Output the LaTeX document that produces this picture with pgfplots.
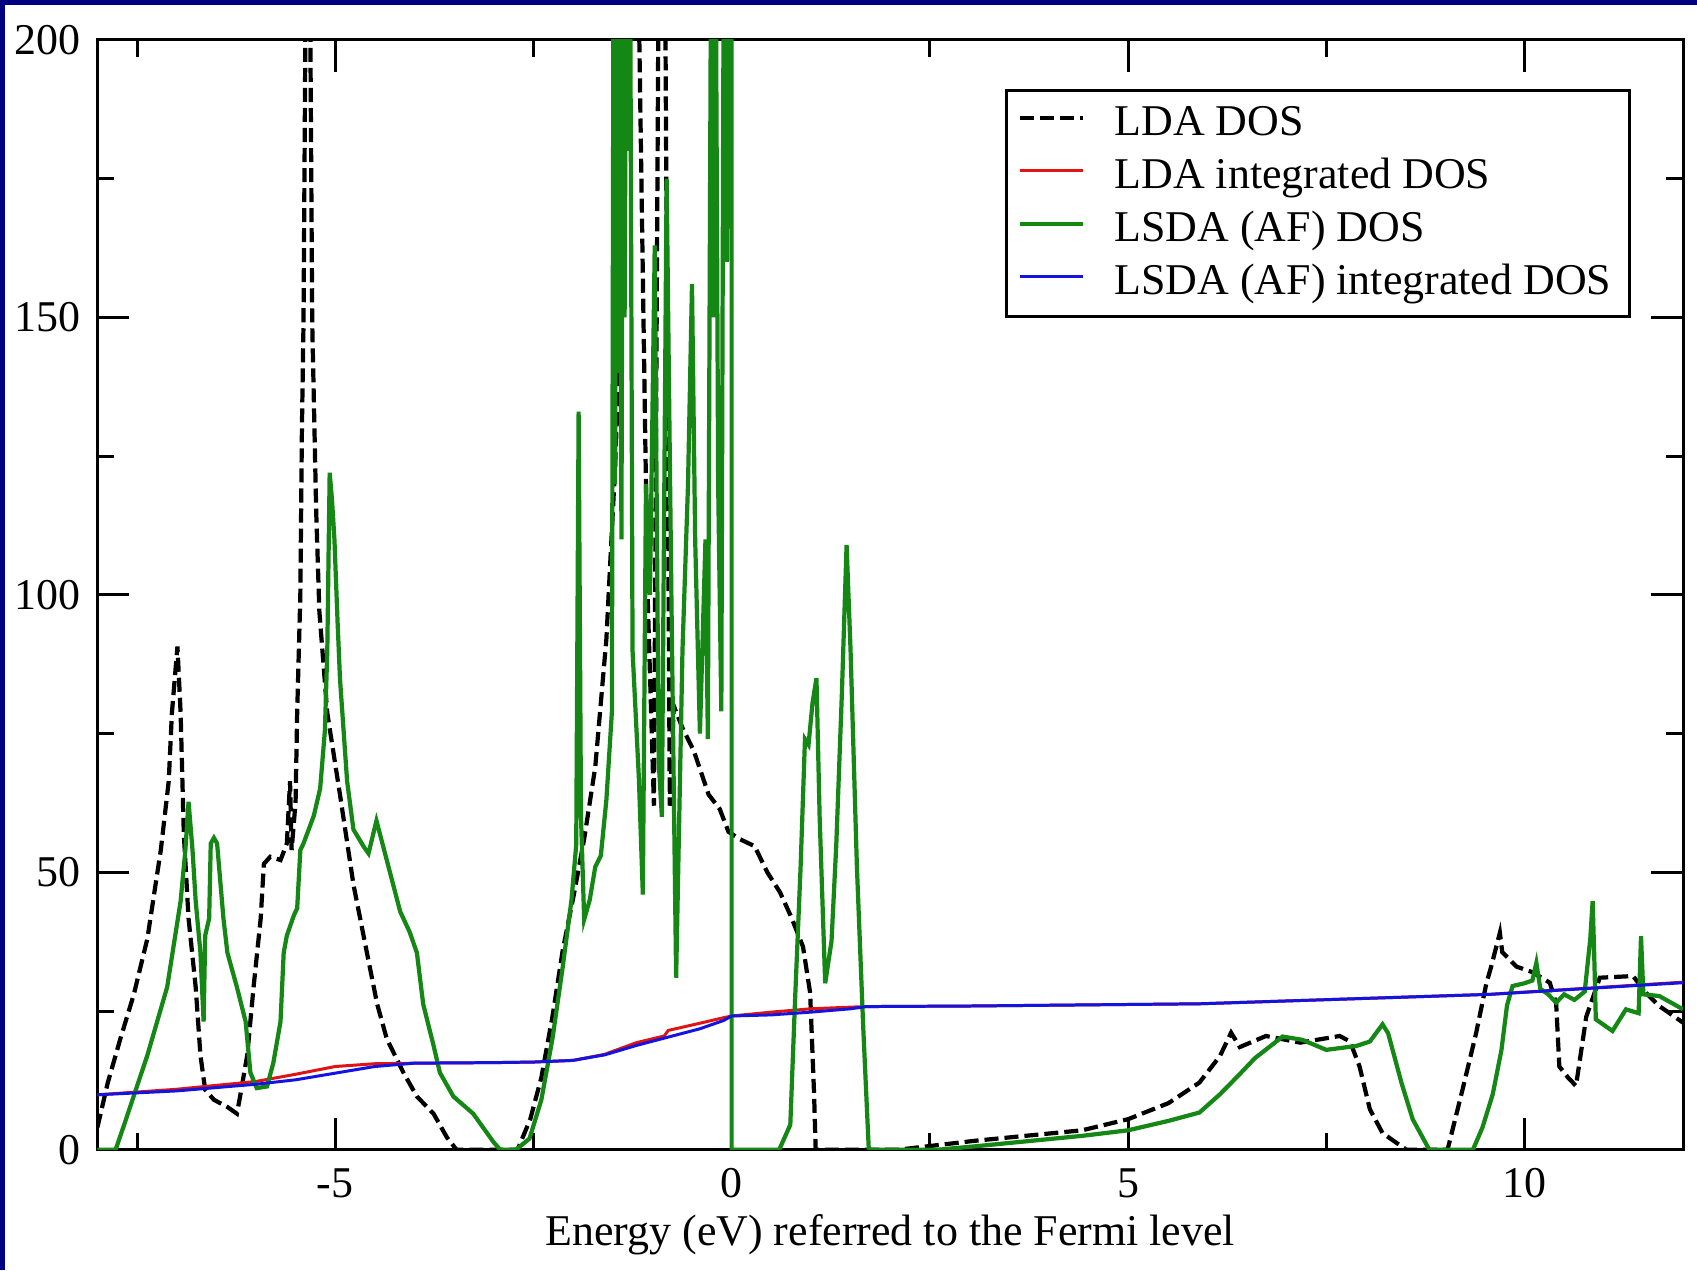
\documentclass[border=0pt]{standalone}
\usepackage{fontspec}
\setmainfont{Liberation Serif}
\usepackage{pgfplots}
\pgfplotsset{compat=1.18}
\definecolor{navyb}{RGB}{0,0,128}
\definecolor{gr}{RGB}{20,135,20}
\definecolor{rd}{RGB}{225,20,20}
\definecolor{bl}{RGB}{20,20,225}
\begin{document}
\fontsize{12.5}{15}\selectfont
\begin{tikzpicture}
\fill[white] (-0.974,-1.205) rectangle (16.0,11.5);
\fill[navyb] (-0.974,11.45) rectangle (16.0,11.5);
\fill[navyb] (-0.974,-1.205) rectangle (-0.924,11.5);
\begin{axis}[
  scale only axis, width=15.86cm, height=11.10cm,
  xmin=-8, xmax=12, ymin=0, ymax=200,
  xtick={-5,0,5,10}, minor xtick={-7.5,-2.5,2.5,7.5},
  ytick={0,50,100,150,200}, minor ytick={25,75,125,175},
  tick align=inside, major tick length=0.32cm, minor tick length=0.17cm,
  tick style={black, line width=0.85pt},
  axis line style={line width=0.85pt},
  /pgf/number format/assume math mode=true,
  ticklabel style={font=\fontsize{12.5}{15}\selectfont, inner sep=0pt},
  xticklabel style={anchor=base, yshift=-0.475cm},
  yticklabel style={anchor=east, xshift=-0.16cm},
  xlabel={Energy (eV) referred to the Fermi level},
  xlabel style={at={(axis description cs:0.5,0)}, anchor=base, yshift=-0.955cm, font=\fontsize{12.5}{15}\selectfont},
  legend cell align=left,
  legend style={at={(0.967,0.956)}, anchor=north east, draw=black, line width=0.85pt, fill=white,
    font=\fontsize{12.5}{15}\selectfont, inner xsep=0.02cm, inner ysep=0.07cm, row sep=0pt,
    nodes={inner xsep=0.16cm, inner ysep=0pt, text height=0.38cm, text depth=0.15cm}},
  legend image code/.code={\path[draw=none, fill=none] (0cm,0.06cm) -- (0.90cm,0.06cm); \draw[#1] (0.11cm,0.06cm) -- (0.74cm,0.06cm);},
]
\addplot[black, line width=1.2pt, dash pattern=on 4pt off 1.7pt] coordinates {
(-8,4) (-7.87,12) (-7.71,20) (-7.54,28) (-7.37,38) (-7.20,54) (-7.10,66.4) (-7.06,78.7) (-6.99,90.7) (-6.95,78.7) (-6.91,57) (-6.85,41.7) (-6.76,29.3) (-6.70,17) (-6.64,10.8) (-6.53,9) (-6.36,7.7) (-6.24,6.5) (-6.20,9.6) (-6.11,17) (-6.03,29.3) (-5.94,41.7) (-5.90,51.5) (-5.82,52.8) (-5.69,52.2) (-5.61,55.2) (-5.57,66.4) (-5.55,54) (-5.50,62.7) (-5.48,78.7) (-5.44,100) (-5.42,130) (-5.40,149) (-5.37,215) (-5.32,215) (-5.29,149) (-5.24,115) (-5.20,97) (-5.10,78.7) (-4.94,64) (-4.77,47.8) (-4.60,35.5) (-4.47,26.2) (-4.35,20) (-4.14,13.9) (-3.97,9.6) (-3.76,6.5) (-3.59,2.2) (-3.47,0) (-2.70,0) (-2.54,5.5) (-2.40,13) (-2.26,24) (-2.13,36) (-1.99,46) (-1.86,56) (-1.72,69) (-1.58,92) (-1.47,123) (-1.38,158) (-1.30,215) (-1.18,215) (-1.06,100) (-0.98,62) (-0.92,215) (-0.84,215) (-0.78,62) (-0.73,80) (-0.62,76) (-0.48,72) (-0.29,64) (-0.15,61.4) (-0.04,57.3) (0.1,56) (0.29,54.7) (0.45,50) (0.61,46.4) (0.75,42) (0.90,36.6) (0.99,28.3) (1.04,10) (1.06,0) (2.1,0) (3.06,1.6) (4.42,3.5) (5.0,5.5) (5.51,8.4) (5.90,12.1) (6.16,16.9) (6.30,21.1) (6.41,18.5) (6.74,20.5) (7.17,19.3) (7.67,20.5) (7.80,19.5) (7.92,15) (8.05,7.3) (8.21,3) (8.51,0) (9.03,0) (9.22,10.9) (9.39,21) (9.52,30) (9.58,33) (9.69,39.1) (9.72,35.6) (9.90,33) (10.10,32) (10.32,30.1) (10.40,26.3) (10.44,15) (10.55,13) (10.65,11.5) (10.78,24) (10.95,31) (11.37,31.3) (11.53,28.3) (11.70,25.9) (12,22.9)
};
\addlegendentry{LDA DOS}
\addplot[rd, line width=0.85pt] coordinates {
(-8,9.9) (-7,10.9) (-6,12.3) (-5.5,13.6) (-5,15) (-4.5,15.5) (-4,15.6) (-3,15.7) (-2.5,15.8) (-2,16.1) (-1.6,17.2) (-1.2,19.3) (-0.85,20.5) (-0.80,21.5) (-0.4,22.8) (-0.1,23.8) (0,24.1) (0.5,24.8) (1.0,25.4) (1.5,25.7) (1.7,25.8) (3,25.9) (5.9,26.3) (9.56,28) (12,30.2)
};
\addlegendentry{LDA integrated DOS}
\addplot[gr, line width=1.2pt] coordinates {
(-8,0) (-7.77,0) (-7.66,4.6) (-7.37,17.0) (-7.12,29.3) (-6.95,44.8) (-6.89,54.0) (-6.85,62.7) (-6.80,54.0) (-6.76,44.8) (-6.70,35.5) (-6.66,23.1) (-6.64,38.6) (-6.59,41.7) (-6.57,55.2) (-6.53,56.2) (-6.49,55.2) (-6.41,41.7) (-6.36,35.5) (-6.24,29.3) (-6.13,23.1) (-6.07,13.9) (-5.99,11.1) (-5.86,11.4) (-5.78,15.7) (-5.69,23.1) (-5.65,35.5) (-5.61,38.6) (-5.52,42.3) (-5.48,43.5) (-5.44,54.0) (-5.40,55.2) (-5.27,60.2) (-5.19,65.1) (-5.13,75.6) (-5.10,90) (-5.07,122) (-5.04,117) (-5.01,110) (-4.97,95) (-4.94,84.9) (-4.85,66.4) (-4.77,57.7) (-4.64,54.6) (-4.58,53.4) (-4.48,59.3) (-4.35,52.2) (-4.18,42.9) (-4.06,39.2) (-3.97,35.5) (-3.89,26.2) (-3.76,18.8) (-3.68,13.9) (-3.51,9.6) (-3.26,6.5) (-3.01,1.5) (-2.92,0) (-2.72,0) (-2.55,2) (-2.40,9) (-2.26,20) (-2.13,33) (-2.02,45) (-1.96,55) (-1.93,133) (-1.90,60) (-1.86,41.5) (-1.79,45) (-1.72,51) (-1.65,53) (-1.58,63) (-1.51,79) (-1.49,215) (-1.47,120) (-1.45,215) (-1.43,140) (-1.41,215) (-1.39,110) (-1.37,215) (-1.35,150) (-1.33,215) (-1.30,180) (-1.28,215) (-1.25,90) (-1.17,67) (-1.12,46) (-1.08,120) (-1.03,100) (-0.97,163) (-0.92,70) (-0.88,60) (-0.82,175) (-0.76,100) (-0.70,31) (-0.62,90) (-0.55,120) (-0.50,156) (-0.46,110) (-0.40,75) (-0.33,110) (-0.30,74) (-0.26,215) (-0.23,150) (-0.20,215) (-0.17,120) (-0.13,79) (-0.10,215) (-0.06,160) (-0.03,215) (0,215) (0,0) (0.6,0) (0.74,4.5) (0.80,27) (0.87,51) (0.925,74) (0.97,73) (1.02,80.5) (1.07,85) (1.11,60) (1.18,30) (1.26,37.6) (1.32,55) (1.39,82) (1.45,109) (1.50,90) (1.58,51) (1.66,22) (1.73,0) (2.6,0) (3.06,0.6) (4.42,2.5) (5.0,3.5) (5.51,5.2) (5.90,6.7) (6.16,10) (6.40,13.5) (6.60,16.5) (6.95,20.4) (7.20,19.8) (7.50,18) (7.88,18.7) (8.05,19.5) (8.21,22.6) (8.28,21) (8.45,12) (8.59,5.5) (8.80,0) (9.35,0) (9.47,4) (9.60,10) (9.71,18) (9.78,26) (9.85,29.5) (10.0,30) (10.10,30.5) (10.15,33.7) (10.20,29) (10.30,28) (10.40,26.5) (10.50,28) (10.63,27) (10.76,28.5) (10.83,38) (10.86,44.8) (10.88,35) (10.90,23.5) (11.11,21.4) (11.28,25.3) (11.44,24.6) (11.47,38.5) (11.50,28) (11.70,27.7) (12,25.3)
};
\addlegendentry{LSDA (AF) DOS}
\addplot[bl, line width=0.85pt] coordinates {
(-8,9.9) (-7,10.6) (-6,11.8) (-5.5,12.6) (-5,13.8) (-4.5,15) (-4,15.6) (-3,15.7) (-2.5,15.8) (-2,16.1) (-1.6,17.1) (-1.2,18.8) (-0.8,20.3) (-0.4,21.8) (-0.1,23.3) (0,24.1) (0.5,24.3) (1.0,24.8) (1.5,25.4) (1.7,25.8) (3,25.9) (5.9,26.3) (9.56,28) (12,30.1)
};
\addlegendentry{LSDA (AF) integrated DOS}
\end{axis}
\pgfresetboundingbox
\path[use as bounding box] (-0.974,-1.205) rectangle (16.0,11.5);
\end{tikzpicture}
\end{document}
